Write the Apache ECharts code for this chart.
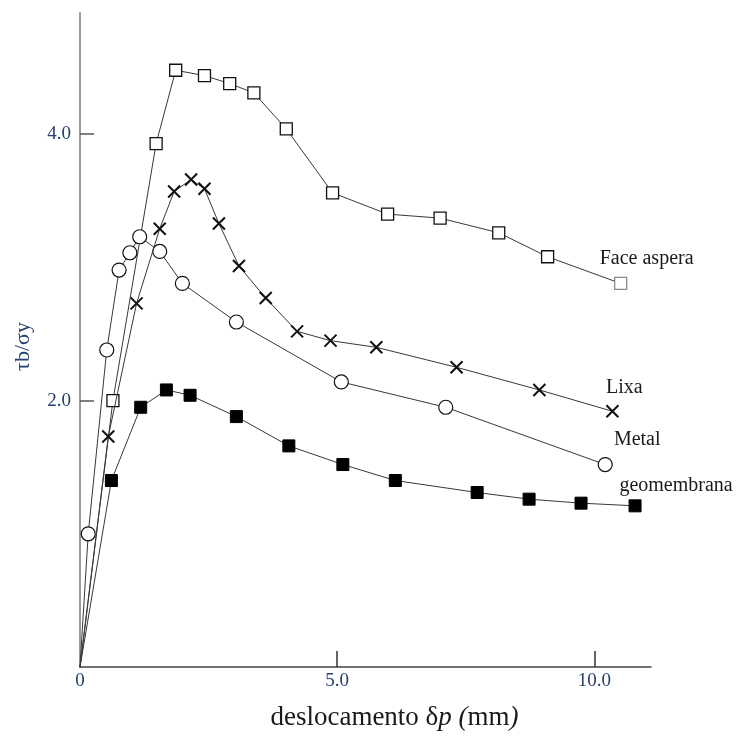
<!DOCTYPE html>
<html>
<head>
<meta charset="utf-8">
<style>
  html, body { margin: 0; padding: 0; background: #fff; }
  #chart { width: 738px; height: 736px; }
</style>
<script src="https://cdn.jsdelivr.net/npm/echarts@6/dist/echarts.min.js"></script>
</head>
<body>
<div id="chart"></div>
<script>
// Displacement (mm) and normalised bond stress for each interface type
const faceAsperaX = [0, 0.64, 1.48, 1.86, 2.42, 2.91, 3.38, 4.01, 4.91, 5.98, 7.00, 8.14, 9.09, 10.51];
const faceAsperaY = [0, 2.00, 3.93, 4.48, 4.44, 4.38, 4.31, 4.04, 3.56, 3.40, 3.37, 3.26, 3.08, 2.88];

const lixaX = [0, 0.55, 1.10, 1.55, 1.83, 2.16, 2.42, 2.70, 3.09, 3.61, 4.22, 4.87, 5.76, 7.32, 8.93, 10.35];
const lixaY = [0, 1.73, 2.73, 3.29, 3.57, 3.66, 3.59, 3.33, 3.01, 2.77, 2.52, 2.45, 2.40, 2.25, 2.08, 1.92];

const metalX = [0, 0.16, 0.52, 0.76, 0.97, 1.16, 1.55, 1.99, 3.04, 5.08, 7.11, 10.21];
const metalY = [0, 1.00, 2.38, 2.98, 3.11, 3.23, 3.12, 2.88, 2.59, 2.14, 1.95, 1.52];

const geoX = [0, 0.61, 1.18, 1.68, 2.14, 3.04, 4.06, 5.11, 6.13, 7.72, 8.73, 9.74, 10.79];
const geoY = [0, 1.40, 1.95, 2.08, 2.04, 1.88, 1.66, 1.52, 1.40, 1.31, 1.26, 1.23, 1.21];

const seriesNames = ['Face aspera', 'Lixa', 'Metal', 'geomembrana'];
const xTicks = [5, 10];
const xTickLabels = [0, 5, 10];
const yTicks = [2, 4];

const SERIF = '"Liberation Serif", "DejaVu Serif", serif';
const TICK_COLOR = '#25406f';

// Pair x/y arrays into points; the origin is drawn without a marker,
// and the last point carries the curve's name.
function buildPoints(xs, ys, labelOpts, lastItemStyle) {
  return xs.map((x, i) => {
    const item = { value: [x, ys[i]] };
    if (i === 0) item.symbol = 'none';
    if (i === xs.length - 1) {
      item.label = Object.assign({
        show: true,
        position: 'top',
        fontFamily: SERIF,
        fontSize: 20,
        color: '#1a1a1a'
      }, labelOpts);
      if (lastItemStyle) item.itemStyle = lastItemStyle;
    }
    return item;
  });
}

const lineStyle = { color: '#383838', width: 1 };
const crossPath = 'path://M0,0L10,10M10,0L0,10';

const chart = echarts.init(document.getElementById('chart'), null, { renderer: 'canvas' });

chart.setOption({
  animation: false,
  backgroundColor: '#fff',
  grid: { left: 80, right: 87, top: 13, bottom: 68, containLabel: false },
  xAxis: {
    type: 'value',
    min: 0,
    max: 11.1,
    interval: 5,
    splitLine: { show: false },
    axisLine: { show: true, onZero: false, lineStyle: { color: '#444', width: 1.5 } },
    axisTick: { show: true, inside: true, length: 16, customValues: xTicks, lineStyle: { color: '#333', width: 1.5 } },
    axisLabel: {
      customValues: xTickLabels,
      margin: 5,
      fontFamily: SERIF,
      fontSize: 19,
      color: TICK_COLOR,
      formatter: v => (v === 0 ? '0' : v.toFixed(1))
    },
    name: '{a|deslocamento δ}{i|p (}{a|mm}{i|)}',
    nameLocation: 'middle',
    nameGap: 37,
    nameTextStyle: {
      padding: [0, 0, 0, 58],
      rich: {
        a: { fontFamily: SERIF, fontSize: 27, color: '#1a1a1a' },
        i: { fontFamily: SERIF, fontSize: 27, fontStyle: 'italic', color: '#1a1a1a' }
      }
    }
  },
  yAxis: {
    type: 'value',
    min: 0,
    max: 4.91,
    interval: 2,
    splitLine: { show: false },
    axisLine: { show: true, onZero: false, lineStyle: { color: '#9a9a9a', width: 2 } },
    axisTick: { show: true, inside: true, length: 14, customValues: yTicks, lineStyle: { color: '#555', width: 1.5 } },
    axisLabel: {
      customValues: yTicks,
      margin: 9,
      fontFamily: SERIF,
      fontSize: 19,
      color: TICK_COLOR,
      padding: [6, 0, 0, 0],
      formatter: v => v.toFixed(1)
    },
    name: 'τb/σy',
    nameLocation: 'middle',
    nameRotate: 90,
    nameGap: 46,
    nameTextStyle: {
      fontFamily: SERIF,
      fontSize: 22,
      color: TICK_COLOR,
      padding: [0, 13, 0, 0]
    }
  },
  series: [
    {
      name: seriesNames[0],
      type: 'line',
      data: buildPoints(faceAsperaX, faceAsperaY,
        { formatter: seriesNames[0], offset: [26, -3] },
        { color: '#fff', borderColor: '#8a8a8a', borderWidth: 1.3 }),
      symbol: 'rect',
      symbolSize: 12,
      showAllSymbol: true,
      lineStyle: lineStyle,
      itemStyle: { color: '#fff', borderColor: '#111', borderWidth: 1.3 },
      z: 2
    },
    {
      name: seriesNames[1],
      type: 'line',
      data: buildPoints(lixaX, lixaY, { formatter: seriesNames[1], offset: [12, -2] }),
      symbol: crossPath,
      symbolSize: 12,
      showAllSymbol: true,
      lineStyle: lineStyle,
      itemStyle: { color: 'transparent', borderColor: '#111', borderWidth: 2 },
      z: 3
    },
    {
      name: seriesNames[2],
      type: 'line',
      data: buildPoints(metalX, metalY, { formatter: seriesNames[2], offset: [32, -2] }),
      symbol: 'circle',
      symbolSize: 14,
      showAllSymbol: true,
      lineStyle: lineStyle,
      itemStyle: { color: '#fff', borderColor: '#111', borderWidth: 1.2 },
      z: 2
    },
    {
      name: seriesNames[3],
      type: 'line',
      data: buildPoints(geoX, geoY, { formatter: seriesNames[3], offset: [41, 1] }),
      symbol: 'rect',
      symbolSize: 12,
      showAllSymbol: true,
      lineStyle: lineStyle,
      itemStyle: { color: '#000', borderColor: '#000', borderWidth: 1 },
      z: 2
    }
  ]
});
</script>
</body>
</html>
